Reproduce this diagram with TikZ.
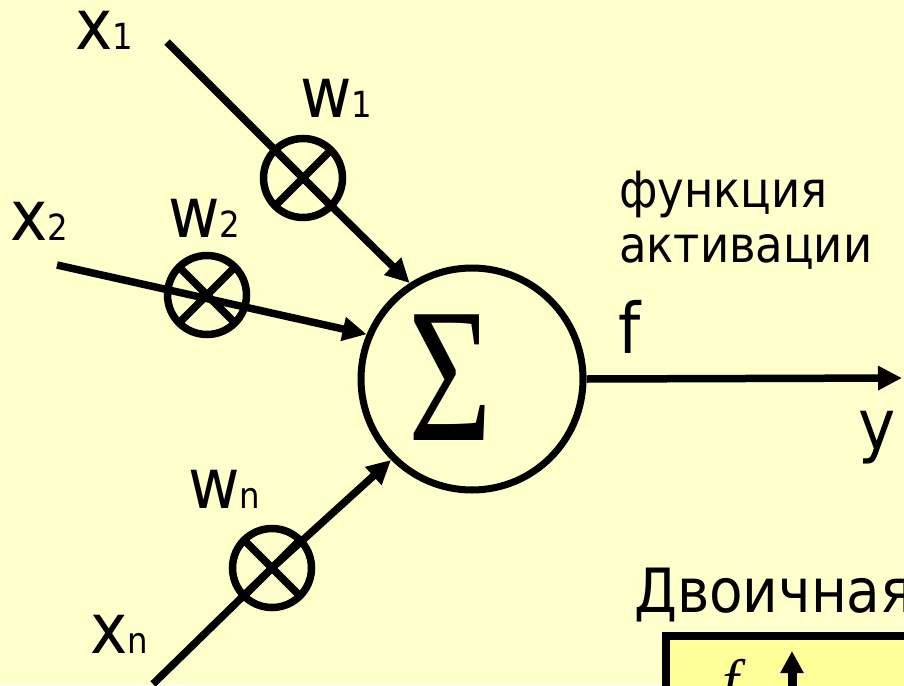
\documentclass[tikz,border=0pt]{standalone}
\usepackage{fontspec}
\usepackage{graphicx}
\setmainfont{DejaVu Sans Condensed}
\newfontfamily\seriffont{Liberation Serif}
\usetikzlibrary{arrows.meta}
\definecolor{bg}{HTML}{FFFFCC}
\definecolor{plotfill}{HTML}{FFFF99}
\newcommand\subsz{\fontsize{36}{36}\selectfont}
\newcommand\bigsz{\fontsize{70}{70}\selectfont}

\begin{document}
\begin{tikzpicture}[x=1pt,y=-1pt,
  wire/.style={line width=7.5pt},
  conn/.style={line width=7.5pt,-{Triangle[length=24pt,width=23pt]}},
  mult/.style={circle,draw,line width=7.5pt,minimum size=79pt,inner sep=0pt,outer sep=0pt},
  lbl/.style={anchor=base west,inner sep=0pt,font=\bigsz},
  note/.style={anchor=base west,inner sep=0pt,font=\fontsize{50}{50}\selectfont}]

% page and background
\fill[bg] (0,0) rectangle (904,685);
\useasboundingbox (0,0) rectangle (904,685);
\clip (0,0) rectangle (904,685);

% summing unit
\node[circle,draw,line width=7pt,minimum size=222pt,inner sep=0pt] (sum) at (472,379) {};
\node[inner sep=0pt,font=\seriffont\fontsize{192}{192}\selectfont] (sig) at (450,378) {\scalebox{0.75}[1]{Σ}};

% weight multipliers
\node[mult] (m1) at (303,178) {};
\node[mult] (m2) at (207,295) {};
\node[mult] (mn) at (272,568) {};
\foreach \m in {m1,m2,mn}{
  \draw[wire] (\m.45) -- (\m.225);
  \draw[wire] (\m.135) -- (\m.315);
}

% input wires
\coordinate (x1s) at (167,42);
\coordinate (x2s) at (57,265);
\coordinate (xns) at (153,684);
\coordinate (yend) at (902,378);
\draw[conn] (x1s) -- (m1.center) -- (sum.123);
\draw[conn] (x2s) -- (sum.157);
\draw[conn] (xns) -- (mn.center) -- (sum.225);
\draw[conn] (sum.east) -- (yend);

% labels
\node[lbl] (lx1) at (75,50) {x{\subsz 1}};
\node[lbl] (lw1) at (300,117) {w{\subsz 1}};
\node[lbl] (lx2) at (10,240) {x{\subsz 2}};
\node[lbl] (lw2) at (168,237) {w{\subsz 2}};
\node[lbl] (lwn) at (188,508) {w{\subsz n}};
\node[lbl] (lxn) at (90,653) {x{\subsz n}};
\node[note] (act1) at (619,207) {функция};
\node[note] (act2) at (619,262) {активации};
\node[lbl] (lf) at (618,353) {f};
\node[lbl] (ly) at (858,449) {y};

% binary activation plot (partly visible)
\node[anchor=base west,inner sep=0pt,font=\fontsize{61}{61}\selectfont] (bin) at (634,612) {Двоичная};
\draw[line width=8pt,fill=plotfill] (666,636) rectangle (920,720);
\node[anchor=base west,inner sep=0pt,font=\seriffont\itshape\fontsize{60}{60}\selectfont] (pf) at (722,701) {f};
\coordinate (axb) at (792,700);
\coordinate (axt) at (792,651);
\draw[line width=9pt,-{Triangle[length=22pt,width=22pt]}] (axb) -- (axt);
\end{tikzpicture}
\end{document}
